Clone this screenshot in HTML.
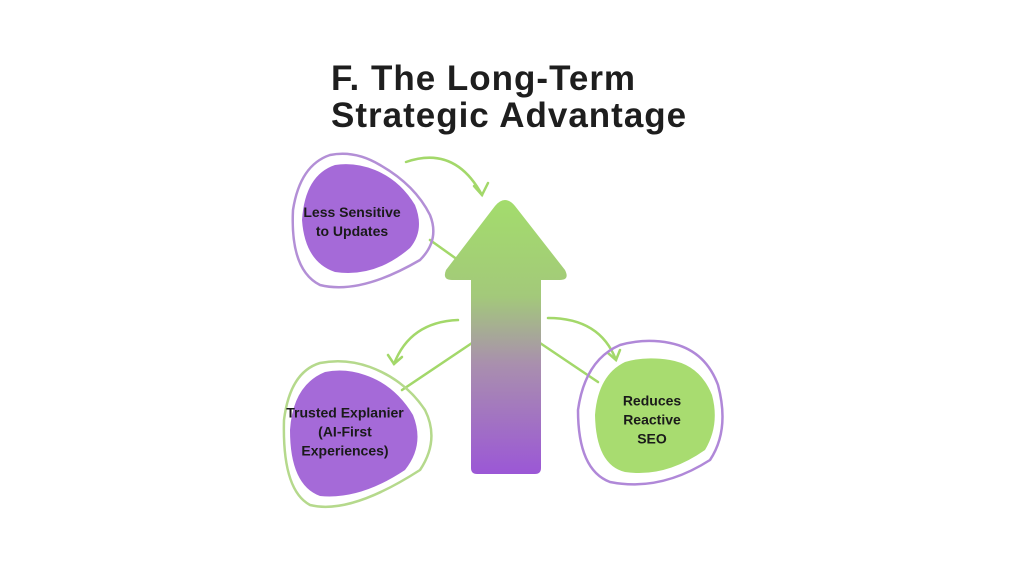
<!DOCTYPE html>
<html><head><style>
body{margin:0;width:1024px;height:576px;background:#fff;overflow:hidden;position:relative;font-family:"Liberation Sans",sans-serif}
.t{position:absolute;left:331px;top:60px;font-size:35px;font-weight:bold;line-height:37px;color:#1e1e1e;letter-spacing:1px}
.l{position:absolute;font-size:14px;font-weight:bold;color:#1a1a1a;text-align:center;line-height:19px;transform:translate(-50%,-50%)}
</style></head><body>
<svg width="1024" height="576" style="position:absolute;left:0;top:0">
<defs>
<linearGradient id="g" x1="0" y1="0" x2="0" y2="1">
<stop offset="0" stop-color="#a3dc6c"/><stop offset="0.35" stop-color="#a3c97a"/>
<stop offset="0.6" stop-color="#a98fae"/><stop offset="1" stop-color="#9b57d6"/></linearGradient>
</defs>
<g fill="none" stroke="#a3d86a" stroke-width="2.5" stroke-linecap="round">
<line x1="430" y1="240" x2="458" y2="260"/>
<line x1="472" y1="343" x2="402" y2="390"/>
<line x1="540" y1="343" x2="598" y2="382"/>
<path d="M406 162 Q455 145 482 195"/><path d="M474 186 L482 195 L488 183"/>
<path d="M458 320 Q410 322 394 364"/><path d="M388 355 L394 364 L402 357"/>
<path d="M548 318 Q600 318 616 360"/><path d="M608 353 L616 360 L620 350"/>
</g>
<path d="M505 200 Q500 200 495 206 L446 270 Q442 280 452 280 L471 280 L471 468 Q471 474 477 474 L535 474 Q541 474 541 468 L541 280 L560 280 Q570 280 565 270 L515 206 Q510 200 505 200Z" fill="url(#g)"/>
<path d="M330 155 Q300 165 293 210 Q290 270 320 285 Q360 295 420 260 Q440 240 430 215 Q415 185 380 165 Q355 150 330 155Z" fill="none" stroke="#b38fd6" stroke-width="2.5"/>
<path d="M335 165 Q305 175 302 220 Q305 262 335 272 Q375 278 410 248 Q425 230 415 205 Q400 180 375 170 Q355 162 335 165Z" fill="#a56ad8"/>
<path d="M320 363 Q290 372 284 420 Q282 490 310 505 Q350 515 420 470 Q440 440 425 410 Q405 380 370 367 Q345 358 320 363Z" fill="none" stroke="#b5d98c" stroke-width="2.5"/>
<path d="M325 372 Q293 385 290 430 Q290 485 320 496 Q360 500 405 470 Q425 445 413 415 Q395 385 365 375 Q345 368 325 372Z" fill="#a56ad8"/>
<path d="M620 345 Q585 360 578 410 Q578 470 610 482 Q660 492 710 460 Q730 430 718 385 Q705 350 670 343 Q645 338 620 345Z" fill="none" stroke="#b088d8" stroke-width="2.5"/>
<path d="M625 362 Q598 375 595 415 Q596 465 625 472 Q665 478 705 450 Q720 425 712 395 Q700 365 670 360 Q645 356 625 362Z" fill="#a8dc70"/>
</svg>
<div class="t">F. The Long-Term<br>Strategic Advantage</div>
<div class="l" style="left:352px;top:222px">Less Sensitive<br>to Updates</div>
<div class="l" style="left:345px;top:432px">Trusted Explanier<br>(AI-First<br>Experiences)</div>
<div class="l" style="left:652px;top:420px">Reduces<br>Reactive<br>SEO</div>
</body></html>
